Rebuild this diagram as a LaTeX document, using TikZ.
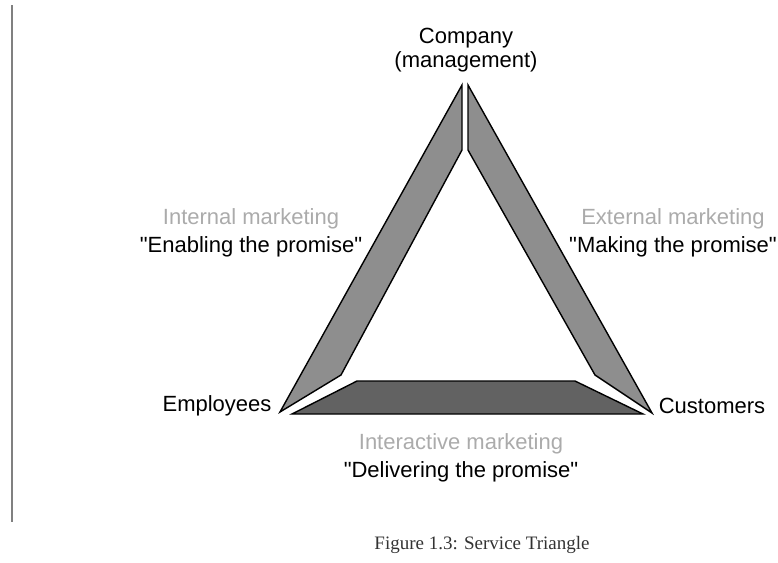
\documentclass[tikz,border=0pt]{standalone}
\usepackage{fontspec}
\setmainfont{Liberation Sans}[Ligatures=TeXOff]
\newfontfamily\captionfont{Liberation Serif}
\usepackage{tikz}
\usetikzlibrary{positioning,calc}

\definecolor{sidegray}{HTML}{8E8E8E}
\definecolor{basegray}{HTML}{626262}
\definecolor{labelgray}{HTML}{ABABAB}

\begin{document}
\begin{tikzpicture}[
    x=0.5pt,y=-0.5pt,
    font=\fontsize{11}{12}\selectfont,
    corner/.style={align=center,inner sep=1pt},
    label/.style={align=center,inner sep=1pt},
    bar/.style={draw=black,line width=0.7pt,line join=miter}
]
  \useasboundingbox (0,0) rectangle (778,563);
  \draw[gray,line width=0.6pt] (12,5) -- (12,522);

  % corners of the triangle
  \node[corner] (company) at (466,50) {Company\\(management)};
  \node[corner] (employees) at (217,406) {Employees};
  \node[corner] (customers) at (712,406) {Customers};

  % internal side
  \coordinate (l1) at (462,85);
  \coordinate (l2) at (462,150);
  \coordinate (l3) at (341,375);
  \coordinate (l4) at (280,412);
  \draw[bar,fill=sidegray] (l1) -- (l2) -- (l3) -- (l4) -- cycle;

  % external side
  \coordinate (r1) at (468,85);
  \coordinate (r2) at (468,150);
  \coordinate (r3) at (595,375);
  \coordinate (r4) at (652,413);
  \draw[bar,fill=sidegray] (r1) -- (r2) -- (r3) -- (r4) -- cycle;

  % interactive side
  \coordinate (b1) at (292,414);
  \coordinate (b2) at (357,381);
  \coordinate (b3) at (575,381);
  \coordinate (b4) at (643,414);
  \draw[bar,fill=basegray] (b1) -- (b2) -- (b3) -- (b4) -- cycle;

  \node[label] (internal) at (251,233)
    {\textcolor{labelgray}{Internal marketing}\\[2pt]"Enabling the promise"};
  \node[label] (external) at (673,233)
    {\textcolor{labelgray}{External marketing}\\[2pt]"Making the promise"};
  \node[label] (interactive) at (461,458)
    {\textcolor{labelgray}{Interactive marketing}\\[2pt]"Delivering the promise"};

  \node[inner sep=1pt,text=black!80] (caption) at (482,545)
    {\captionfont\fontsize{9.5}{11}\selectfont Figure 1.3: Service Triangle};
\end{tikzpicture}
\end{document}
